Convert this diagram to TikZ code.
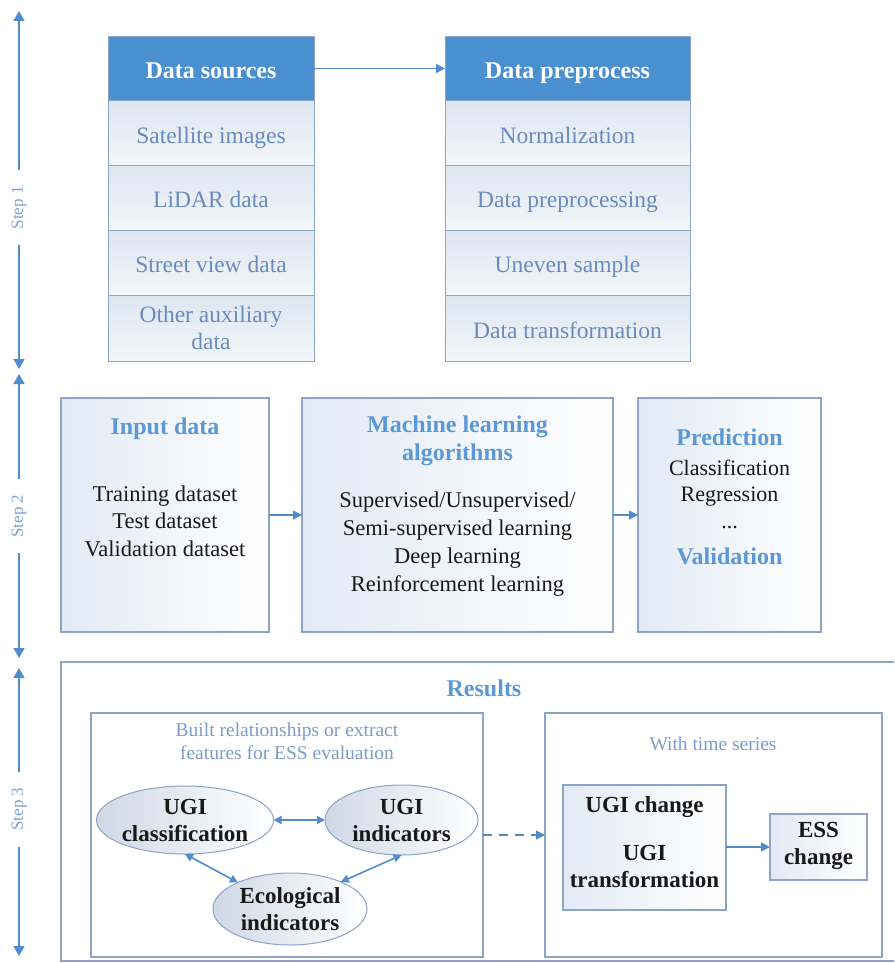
\documentclass[tikz,border=0pt]{standalone}
\usepackage{fontspec}
\setmainfont{Liberation Serif}
\usetikzlibrary{arrows.meta,shapes.geometric}
\definecolor{hdrblue}{RGB}{74,143,208}
\definecolor{bordc}{RGB}{140,164,198}
\definecolor{rowtext}{RGB}{104,140,190}
\definecolor{rowtop}{RGB}{222,230,241}
\definecolor{rowbot}{RGB}{243,246,250}
\definecolor{titleblue}{RGB}{92,152,212}
\definecolor{arrc}{RGB}{80,140,204}
\definecolor{steptext}{RGB}{125,162,210}
\definecolor{smalltext}{RGB}{125,156,200}
\definecolor{boxgrad}{RGB}{226,234,245}
\definecolor{ellgray}{RGB}{208,216,230}
\definecolor{bodytext}{RGB}{25,25,25}
\begin{document}
\begin{tikzpicture}[x=1pt,y=-1pt,
  every node/.style={inner sep=0pt, outer sep=0pt},
  hdr/.style={rectangle, draw=bordc, line width=1pt, fill=hdrblue, text=white,
    font=\fontsize{24}{27}\selectfont\bfseries, minimum height=64pt, text height=21pt, text depth=0pt},
  rowbase/.style={rectangle, draw=bordc, line width=1pt, top color=rowtop, bottom color=rowbot,
    text=rowtext, font=\fontsize{23.5}{27}\selectfont, align=center, minimum height=65pt},
  rowbox/.style={rowbase, text height=20pt, text depth=0pt},
  tabA/.style={minimum width=206pt},
  tabB/.style={minimum width=245pt},
  bigbox/.style={rectangle, draw=bordc, line width=1.2pt, left color=boxgrad, right color=white,
    minimum height=234pt},
  headtxt/.style={text=titleblue, font=\fontsize{24}{28}\selectfont\bfseries, align=center},
  bodytxt/.style={text=bodytext, font=\fontsize{22.5}{27.5}\selectfont, align=center},
  framebox/.style={rectangle, draw=bordc, line width=1.2pt, fill=white},
  ellnode/.style={ellipse, draw=bordc, line width=1pt, left color=ellgray, right color=white},
  boldtxt/.style={text=bodytext, font=\fontsize{23}{27}\selectfont\bfseries, align=center},
  smalltxt/.style={text=smalltext, font=\fontsize{19.5}{23}\selectfont, align=center},
  arr/.style={draw=arrc, line width=1.6pt, -{Triangle[length=9pt,width=9pt]}},
  biarr/.style={draw=arrc, line width=1.6pt, {Triangle[length=8pt,width=8pt]}-{Triangle[length=8pt,width=8pt]}},
  steparr/.style={draw=arrc, line width=1.6pt, {Triangle[length=10pt,width=11pt]}-{Triangle[length=10pt,width=11pt]}},
  steplbl/.style={fill=white, rotate=90, inner xsep=16pt, inner ysep=2pt, text=steptext,
    font=\fontsize{17}{20}\selectfont}
]
\useasboundingbox (0,0) rectangle (894,963);
\clip (0,0) rectangle (894,963);
\fill[white] (0,0) rectangle (894,963);

% ---------- Step arrows ----------
\coordinate (s1t) at (19,11);
\coordinate (s1b) at (19,369);
\coordinate (s2t) at (19,374);
\coordinate (s2b) at (19,658);
\coordinate (s3t) at (19,668);
\coordinate (s3b) at (19,956);
\draw[steparr] (s1t) -- (s1b) node[steplbl, pos=0.55] (lbl1) {Step 1};
\draw[steparr] (s2t) -- (s2b) node[steplbl, pos=0.5] (lbl2) {Step 2};
\draw[steparr] (s3t) -- (s3b) node[steplbl, pos=0.49] (lbl3) {Step 3};

% ---------- Step 1 ----------
\node[hdr, tabA] (dsh) at (211,68.5) {Data sources};
\node[rowbox, tabA] (ds1) at (211,133) {Satellite images};
\node[rowbox, tabA] (ds2) at (211,197.5) {LiDAR data};
\node[rowbox, tabA] (ds3) at (211,262.5) {Street view data};
\node[rowbase, tabA, minimum height=66pt] (ds4) at (211,328) {Other auxiliary\\data};

\node[hdr, tabB] (dph) at (567.5,68.5) {Data preprocess};
\node[rowbox, tabB] (dp1) at (567.5,133) {Normalization};
\node[rowbox, tabB] (dp2) at (567.5,197.5) {Data preprocessing};
\node[rowbox, tabB] (dp3) at (567.5,262.5) {Uneven sample};
\node[rowbox, tabB, minimum height=66pt] (dp4) at (567.5,328) {Data transformation};

\draw[arr] (dsh) -- (dph);

% ---------- Step 2 ----------
\node[bigbox, minimum width=208pt] (inbox) at (165,515) {};
\node[bigbox, minimum width=311pt] (mlbox) at (457.5,515) {};
\node[bigbox, minimum width=183pt] (prbox) at (729.5,515) {};

\node[headtxt] (inhead) at (165,429) {Input data};
\node[bodytxt] (inbody) at (165,521) {Training dataset\\Test dataset\\Validation dataset};

\node[headtxt] (mlhead) at (457.5,441) {Machine learning\\algorithms};
\node[bodytxt, font=\fontsize{22.5}{28}\selectfont] (mlbody) at (457.5,544) {Supervised/Unsupervised/\\Semi-supervised learning\\Deep learning\\Reinforcement learning};

\node[headtxt] (prhead) at (729.5,437) {Prediction};
\node[bodytxt, font=\fontsize{22}{26.5}\selectfont] (prbody) at (729.5,494) {Classification\\Regression\\...};
\node[headtxt] (valhead) at (729.5,556) {Validation};

\draw[arr] (inbox) -- (mlbox);
\draw[arr] (mlbox) -- (prbox);

% ---------- Step 3 ----------
\node[framebox, minimum width=850pt, minimum height=299pt, anchor=north west] (resbox) at (61,662) {};
\node[headtxt] (reshead) at (484,688) {Results};

\node[framebox, minimum width=392pt, minimum height=244pt] (leftbox) at (287,835) {};
\node[framebox, minimum width=337pt, minimum height=244pt] (rightbox) at (713.5,835) {};

\node[smalltxt] (lefttitle) at (287,741) {Built relationships or extract\\features for ESS evaluation};
\node[smalltxt] (righttitle) at (713,744) {With time series};

\node[ellnode, minimum width=177pt, minimum height=68pt] (e1) at (185,820) {};
\node[boldtxt] (e1t) at (185,820) {UGI\\classification};
\node[ellnode, minimum width=153pt, minimum height=70pt] (e2) at (401.5,820) {};
\node[boldtxt] (e2t) at (401.5,820) {UGI\\indicators};
\node[ellnode, minimum width=154pt, minimum height=72pt] (e3) at (290,909) {};
\node[boldtxt] (e3t) at (290,909) {Ecological\\indicators};

\draw[biarr] (e1) -- (e2);
\draw[biarr] (e1.south) -- (e3.153);
\draw[biarr] (e2.south) -- (e3.28);

\draw[arr, dash pattern=on 9pt off 7pt] (leftbox) -- (rightbox);

\node[rectangle, draw=bordc, line width=1.2pt, left color=boxgrad, right color=white,
  minimum width=163pt, minimum height=125pt] (ugibox) at (644.5,847.5) {};
\node[boldtxt] (ugit) at (644.5,842) {UGI change\\[21pt]UGI\\transformation};
\node[rectangle, draw=bordc, line width=1.2pt, left color=boxgrad, right color=white,
  minimum width=97pt, minimum height=66pt] (essbox) at (818.5,847) {};
\node[boldtxt] (esst) at (818.5,846) {ESS\\change};

\draw[arr] (ugibox.east |- essbox.west) -- (essbox.west);
\end{tikzpicture}
\end{document}
